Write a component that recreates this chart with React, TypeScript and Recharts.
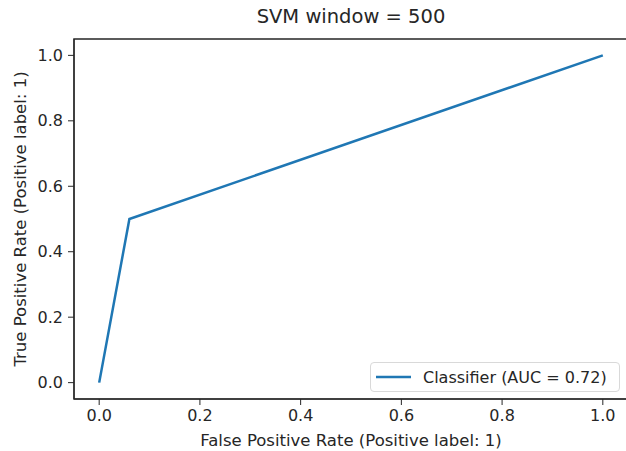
import React from "react";
import {
  LineChart,
  Line,
  XAxis,
  YAxis,
  ReferenceArea,
  Legend,
} from "recharts";

const fpr = [0, 0.06, 1];
const tpr = [0, 0.5, 1];
const axisTicks = [0, 0.2, 0.4, 0.6, 0.8, 1.0];
const title = "SVM window = 500";
const xLabel = "False Positive Rate (Positive label: 1)";
const yLabel = "True Positive Rate (Positive label: 1)";
const seriesName = "Classifier (AUC = 0.72)";

const data = fpr.map((x, i) => ({ fpr: x, tpr: tpr[i] }));

const FONT = "'DejaVu Sans', sans-serif";
const BLUE = "#1f77b4";
const INK = "#262626";

const tickStyle = { fontSize: 16, fill: INK, fontFamily: FONT };

const LegendBox = () => (
  <div
    style={{
      display: "flex",
      alignItems: "center",
      width: 248,
      height: 28,
      border: "1px solid #d9d9d9",
      borderRadius: 4,
      background: "rgba(255,255,255,0.85)",
      fontFamily: FONT,
      fontSize: 16,
      color: INK,
      boxSizing: "content-box",
    }}
  >
    <svg width={52} height={28}>
      <line x1={5} x2={40} y1={14} y2={14} stroke={BLUE} strokeWidth={2.5} />
    </svg>
    <span>{seriesName}</span>
  </div>
);

export default function App() {
  return (
    <div
      style={{
        position: "absolute",
        left: 0,
        top: 0,
        width: 626,
        height: 451,
        overflow: "hidden",
        background: "#fff",
      }}
    >
      <div
        style={{
          position: "absolute",
          left: 74,
          width: 554,
          top: 7,
          textAlign: "center",
          fontFamily: FONT,
          fontSize: 19.5,
          lineHeight: 1,
          color: INK,
        }}
      >
        {title}
      </div>
      <LineChart
        width={628}
        height={451}
        data={data}
        margin={{ top: 39, right: 0, bottom: 0, left: 0 }}
      >
        <XAxis
          dataKey="fpr"
          type="number"
          domain={[-0.05, 1.05]}
          ticks={axisTicks}
          tickFormatter={(v: number) => v.toFixed(1)}
          height={52}
          tickSize={6}
          tickMargin={5}
          tick={tickStyle}
          stroke={INK}
          allowDataOverflow
          label={{
            content: (p: any) => (
              <text
                x={p.viewBox.x + p.viewBox.width / 2}
                y={446}
                textAnchor="middle"
                fontSize={16.5}
                fontFamily={FONT}
                fill={INK}
              >
                {xLabel}
              </text>
            ),
          }}
        />
        <YAxis
          type="number"
          domain={[-0.05, 1.05]}
          ticks={axisTicks}
          tickFormatter={(v: number) => v.toFixed(1)}
          width={74}
          tickSize={6}
          tickMargin={5}
          tick={tickStyle}
          stroke={INK}
          allowDataOverflow
          label={{
            content: (p: any) => {
              const cy = p.viewBox.y + p.viewBox.height / 2;
              return (
                <text
                  x={26}
                  y={cy}
                  transform={`rotate(-90, 26, ${cy})`}
                  textAnchor="middle"
                  fontSize={16.5}
                  fontFamily={FONT}
                  fill={INK}
                >
                  {yLabel}
                </text>
              );
            },
          }}
        />
        <ReferenceArea
          x1={-0.05}
          x2={1.05}
          y1={-0.05}
          y2={1.05}
          fill="none"
          stroke={INK}
          strokeWidth={1.5}
          ifOverflow="extendDomain"
        />
        <Legend
          layout="horizontal"
          verticalAlign="middle"
          align="center"
          content={() => <LegendBox />}
          wrapperStyle={{ left: 370, top: 362, width: "auto" }}
        />
        <Line
          type="linear"
          dataKey="tpr"
          name={seriesName}
          stroke={BLUE}
          strokeWidth={2.5}
          dot={false}
          isAnimationActive={false}
        />
      </LineChart>
    </div>
  );
}
